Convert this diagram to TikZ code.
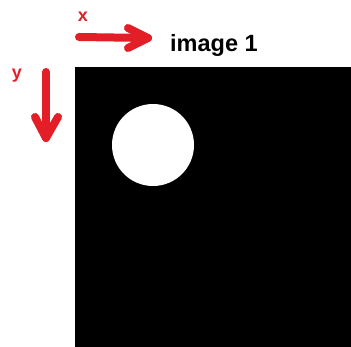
\documentclass[tikz,border=0pt]{standalone}
\usepackage{fontspec}
\setmainfont{Liberation Sans}
\definecolor{arrred}{RGB}{228,30,38}
\begin{document}
\begin{tikzpicture}[x=1pt,y=-1pt,
  redarrow/.style={draw=arrred,line width=8pt,line cap=round,line join=round},
  axlabel/.style={text=arrred,font=\fontsize{18}{18}\selectfont\bfseries,inner sep=0pt}]
\useasboundingbox (0,0) rectangle (351,347);
\fill[white] (0,0) rectangle (351,347);
\fill[black] (75,67) rectangle (351,347);
\fill[white] (153,145) circle (41);
% x arrow
\coordinate (xs) at (79,37);
\coordinate (xe) at (148,38);
\draw[redarrow] (xs) -- (xe);
\draw[redarrow] (128,28) -- (xe) -- (128,48);
\node[axlabel] (xl) at (83,17) {x};
% y arrow
\coordinate (ys) at (46,72);
\coordinate (ye) at (46,138);
\draw[redarrow] (ys) -- (ye);
\draw[redarrow] (35,117) -- (ye) -- (58,117);
\node[axlabel] (yl) at (17,76) {y};
\node[anchor=base west,inner sep=0pt,font=\fontsize{23.5}{23.5}\selectfont\bfseries] (title) at (170,52) {image 1};
\end{tikzpicture}
\end{document}
